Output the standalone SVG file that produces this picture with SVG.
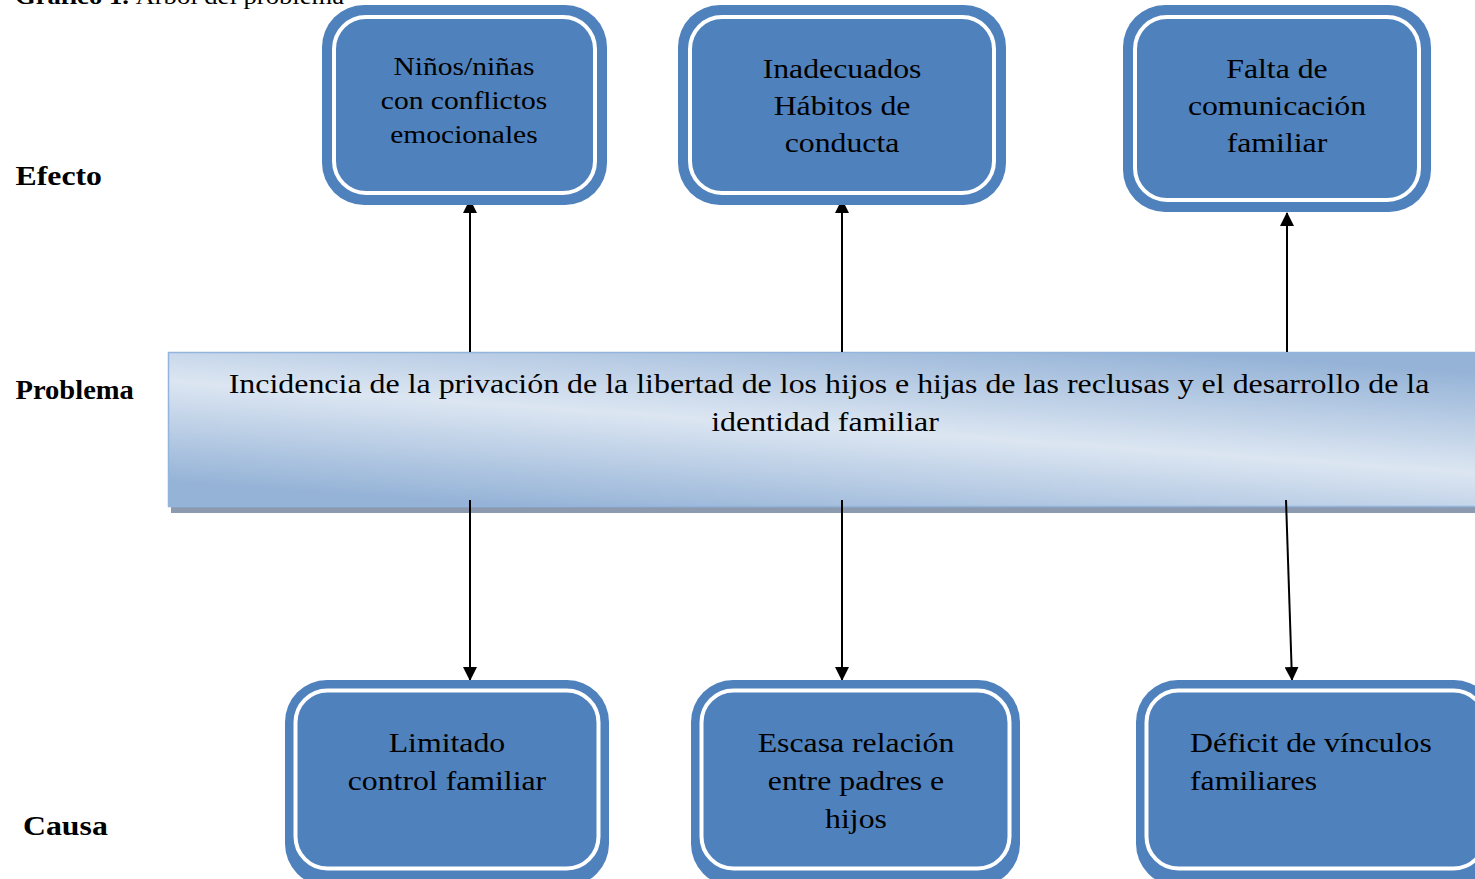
<svg xmlns="http://www.w3.org/2000/svg" width="1475" height="879" viewBox="0 0 1475 879">
<defs>
<linearGradient id="barGrad" gradientUnits="userSpaceOnUse" x1="827" y1="327" x2="813" y2="527">
<stop offset="0" stop-color="#95b3d7"/>
<stop offset="0.5" stop-color="#dce6f2"/>
<stop offset="1" stop-color="#95b3d7"/>
</linearGradient>
<marker id="arr" markerWidth="14" markerHeight="14" refX="13" refY="7" orient="auto" markerUnits="userSpaceOnUse">
<path d="M0,0 L14,7 L0,14 Z" fill="#000"/>
</marker>
<style>
.outer{fill:#4f81bd;}
.inner{fill:none;stroke:#fff;stroke-width:4;}
.nt{font-family:"Liberation Serif","Times New Roman",serif;font-size:28px;fill:#000;text-anchor:middle;}
.lbl{font-family:"Liberation Serif","Times New Roman",serif;font-size:28px;font-weight:bold;fill:#000;}
.conn{stroke:#000;stroke-width:2;fill:none;marker-end:url(#arr);}
</style>
</defs>
<rect width="1475" height="879" fill="#fff"/>
<g transform="scale(1.11 1)">
<text x="13.5" y="4" font-family="Liberation Serif, serif" font-size="24"><tspan font-weight="bold">Gráfico 1.</tspan> Árbol del problema</text>
</g>
<g transform="scale(1.135 1)">
<text class="lbl" x="13.7" y="185">Efecto</text>
<text class="lbl" x="20.3" y="835">Causa</text>
</g>
<g transform="scale(1.02 1)">
<text class="lbl" x="15.2" y="399">Problema</text>
</g>

<g id="problema">
<rect x="171" y="356" width="1310" height="157" fill="#8c9aaf"/>
<rect x="168.5" y="352.5" width="1310" height="154" fill="url(#barGrad)" stroke="#93b4dc" stroke-width="1.5"/>
<g transform="scale(1.14 1)">
<text class="nt" x="727.2" y="393">Incidencia de la privación de la libertad de los hijos e hijas de las reclusas y el desarrollo de la</text>
<text class="nt" x="723.7" y="431">identidad familiar</text>
</g>
</g>

<g id="connectors">
<line class="conn" x1="470" y1="352" x2="470" y2="200"/>
<line class="conn" x1="842" y1="352" x2="842" y2="200"/>
<line class="conn" x1="1287" y1="352" x2="1287" y2="213"/>
<line class="conn" x1="470" y1="500" x2="470" y2="680"/>
<line class="conn" x1="842" y1="500" x2="842" y2="680"/>
<line class="conn" x1="1286" y1="500" x2="1292" y2="680"/>
</g>

<g id="efecto1">
<rect class="outer" x="322" y="5" width="285" height="200" rx="42"/>
<rect class="inner" x="334" y="17" width="261" height="176" rx="32"/>
<g transform="scale(1.135 1)">
<text class="nt" x="408.8" y="75" style="font-size:26px">Niños/niñas</text>
<text class="nt" x="408.8" y="109" style="font-size:26px">con conflictos</text>
<text class="nt" x="408.8" y="143" style="font-size:26px">emocionales</text>
</g>
</g>
<g id="efecto2">
<rect class="outer" x="678" y="5" width="328" height="200" rx="42"/>
<rect class="inner" x="690" y="17" width="304" height="176" rx="32"/>
<g transform="scale(1.135 1)">
<text class="nt" x="741.9" y="78">Inadecuados</text>
<text class="nt" x="741.9" y="115">Hábitos de</text>
<text class="nt" x="741.9" y="152">conducta</text>
</g>
</g>
<g id="efecto3">
<rect class="outer" x="1123" y="5" width="308" height="207" rx="42"/>
<rect class="inner" x="1135" y="17" width="284" height="183" rx="32"/>
<g transform="scale(1.135 1)">
<text class="nt" x="1125.1" y="78">Falta de</text>
<text class="nt" x="1125.1" y="115">comunicación</text>
<text class="nt" x="1125.1" y="152">familiar</text>
</g>
</g>

<g id="causa1">
<rect class="outer" x="285" y="680" width="324" height="206" rx="42"/>
<rect class="inner" x="295.5" y="690.5" width="303" height="178" rx="32"/>
<g transform="scale(1.135 1)">
<text class="nt" x="393.8" y="752">Limitado</text>
<text class="nt" x="393.8" y="790">control familiar</text>
</g>
</g>
<g id="causa2">
<rect class="outer" x="691" y="680" width="329" height="206" rx="42"/>
<rect class="inner" x="701.5" y="690.5" width="308" height="178" rx="32"/>
<g transform="scale(1.135 1)">
<text class="nt" x="754.2" y="752">Escasa relación</text>
<text class="nt" x="754.2" y="790">entre padres e</text>
<text class="nt" x="754.2" y="828">hijos</text>
</g>
</g>
<g id="causa3">
<rect class="outer" x="1136" y="680" width="360" height="206" rx="42"/>
<rect class="inner" x="1146.5" y="690.5" width="339" height="178" rx="32"/>
<g transform="scale(1.135 1)">
<text class="nt" x="1048.5" y="752" style="text-anchor:start">Déficit de vínculos</text>
<text class="nt" x="1048.5" y="790" style="text-anchor:start">familiares</text>
</g>
</g>
</svg>
